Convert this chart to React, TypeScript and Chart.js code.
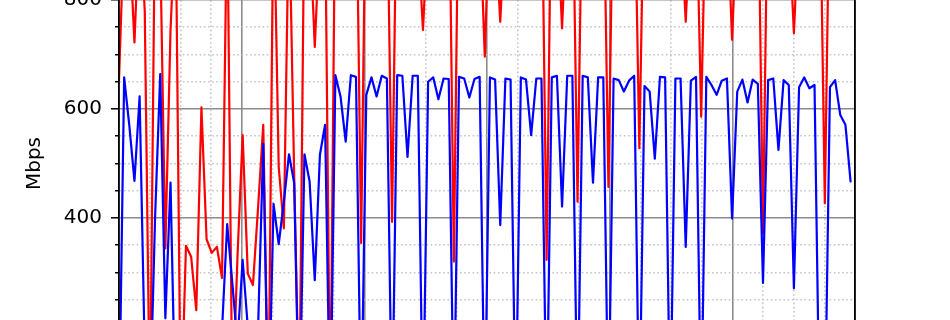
import React, { useEffect, useRef } from 'react';
import { Chart, registerables } from 'chart.js';

Chart.register(...registerables);

// ---- data ----
const SAMPLE_SECONDS = 0.42; // time between samples (s)

const BLUE_MBPS = [
  20, 658, 570, 468, 623, 150, 40, 400, 664, 216,
  465, 20, 120, 160, 90, 140, 180, 30, 150, 170,
  195, 389, 280, 170, 323, 200, 100, 200, 536, 15,
  426, 352, 430, 517, 464, 15, 517, 467, 286, 516,
  571, 10, 662, 623, 540, 662, 659, 10, 626, 658,
  623, 661, 656, 10, 662, 661, 512, 661, 661, 10,
  650, 658, 618, 656, 655, 10, 659, 656, 621, 655,
  659, 10, 658, 654, 387, 656, 654, 10, 658, 654,
  552, 656, 656, 10, 658, 661, 421, 661, 661, 10,
  661, 658, 465, 658, 658, 10, 656, 653, 632, 652,
  661, 10, 642, 632, 509, 659, 658, 10, 656, 656,
  347, 652, 659, 10, 659, 644, 626, 652, 656, 399,
  632, 654, 612, 654, 646, 281, 653, 656, 525, 653,
  644, 271, 640, 658, 638, 644, 10, 10, 640, 653,
  589, 571, 467,
];

const RED_MBPS = [
  653, 940, 920, 722, 960, 780, 30, 980, 900, 344,
  745, 960, 20, 349, 329, 231, 603, 361, 336, 347,
  290, 990, 60, 330, 552, 298, 277, 420, 571, 30,
  1010, 494, 381, 980, 480, 40, 1000, 940, 714, 930,
  980, 20, 1040, 1010, 1030, 1000, 1080, 354, 1100, 1050,
  1020, 1060, 1040, 393, 1090, 1030, 1050, 1010, 920, 745,
  940, 1030, 1060, 1020, 1090, 320, 1100, 1040, 1010, 1050,
  960, 696, 1000, 940, 760, 950, 1030, 1060, 1020, 1050,
  1010, 1040, 1080, 323, 1090, 960, 748, 980, 1060, 430,
  1080, 1020, 1050, 1010, 1060, 457, 1070, 1030, 1050, 1010,
  1060, 528, 1060, 1020, 1040, 1010, 1050, 1030, 1000, 950,
  760, 960, 1020, 586, 1040, 1010, 1050, 1020, 970, 727,
  960, 1030, 1050, 1010, 1070, 372, 1080, 1020, 1040, 980,
  940, 739, 950, 1030, 1050, 1020, 1060, 427, 1070, 1030,
  1010, 1050, 1020,
];

const Y_TITLE = 'Mbps';
const Y_TICK_LABELS = [400, 600, 800];
const Y_MAJOR_EVERY = 200;
const Y_MINOR_STEP = 50;
const X_MAJOR_STEP = 10;
const X_MINOR_STEP = 2.5;

// ---- layout / style ----
const Y_MIN = 0;
const Y_MAX = 1000;
const Y_TOP_VISIBLE = 800;
const PX_PER_UNIT = 109 / 200;
const PLOT_H = (Y_MAX - Y_MIN) * PX_PER_UNIT;
const PAD_TOP = 30;
const X_AXIS_H = 30;
const CANVAS_W = 950;
const CANVAS_H = Math.round(PAD_TOP + PLOT_H + X_AXIS_H);
const OFFSET_TOP = PAD_TOP + (Y_MAX - Y_TOP_VISIBLE) * PX_PER_UNIT;
const PLOT_LEFT = 119;
const PLOT_RIGHT = 855;
const X_MIN = 0;
const X_MAX = 60;

const MAJOR_GRID = '#8c8c8c';
const MINOR_GRID = '#c4c4c4';
const FONT = 'DejaVu Sans';

const toPoints = (vals: number[]) =>
  vals.map((v, i) => ({ x: +(i * SAMPLE_SECONDS).toFixed(3), y: v }));

export default function App() {
  const ref = useRef<HTMLCanvasElement>(null);

  useEffect(() => {
    const canvas = ref.current;
    if (!canvas) return;
    const isMajorY = (c: any) => !c.tick || c.tick.value % Y_MAJOR_EVERY === 0;
    const isMajorX = (c: any) => !c.tick || Math.abs(c.tick.value % X_MAJOR_STEP) < 1e-6;

    const chart = new Chart(canvas, {
      type: 'line',
      data: {
        datasets: [
          {
            label: 'blue',
            data: toPoints(BLUE_MBPS),
            borderColor: '#0000ff',
            borderWidth: 2.2,
            pointRadius: 0,
            tension: 0,
            fill: false,
            borderJoinStyle: 'round',
            borderCapStyle: 'round',
          },
          {
            label: 'red',
            data: toPoints(RED_MBPS),
            borderColor: '#ff0000',
            borderWidth: 2.2,
            pointRadius: 0,
            tension: 0,
            fill: false,
            borderJoinStyle: 'round',
            borderCapStyle: 'round',
          },
        ],
      },
      options: {
        animation: false,
        responsive: false,
        devicePixelRatio: 1,
        events: [],
        layout: { padding: { top: PAD_TOP, right: CANVAS_W - PLOT_RIGHT, bottom: 0, left: 0 } },
        plugins: { legend: { display: false }, tooltip: { enabled: false } },
        scales: {
          x: {
            type: 'linear',
            min: X_MIN,
            max: X_MAX,
            afterFit: (s: any) => { s.height = X_AXIS_H; },
            ticks: { display: false, stepSize: X_MINOR_STEP, autoSkip: false },
            grid: {
              drawTicks: false,
              color: (c: any) => (isMajorX(c) ? MAJOR_GRID : MINOR_GRID),
              lineWidth: 1.6,
            },
            border: {
              display: false,
              dash: (c: any) => (isMajorX(c) ? [] : [1.6, 2.6]),
            },
          },
          y: {
            type: 'linear',
            position: 'left',
            min: Y_MIN,
            max: Y_MAX,
            afterFit: (s: any) => { s.width = PLOT_LEFT; },
            ticks: {
              stepSize: Y_MINOR_STEP,
              autoSkip: false,
              padding: 9,
              color: '#000',
              font: { family: FONT, size: 20 },
              callback: (v: any) => (Y_TICK_LABELS.includes(Number(v)) ? String(v) : ''),
            },
            grid: {
              color: (c: any) => (isMajorY(c) ? MAJOR_GRID : MINOR_GRID),
              lineWidth: 1.6,
              tickColor: '#000',
              tickLength: 8,
              tickWidth: 1.5,
              tickBorderDash: (c: any) => (isMajorY(c) ? [] : [0, 4, 40]),
            },
            border: {
              display: true,
              color: '#000',
              width: 1.8,
              z: 1,
              dash: (c: any) => (c.tick ? (isMajorY(c) ? [] : [1.6, 2.6]) : []),
            },
            title: {
              display: true,
              text: Y_TITLE,
              color: '#000',
              font: { family: FONT, size: 20 },
              padding: { top: 23, bottom: 0 },
            },
          },
          y2: {
            type: 'linear',
            position: 'right',
            min: Y_MIN,
            max: Y_MAX,
            afterFit: (s: any) => { s.width = 0; },
            ticks: { display: false },
            grid: { display: false, drawTicks: false },
            border: { display: true, color: '#000', width: 1.8, z: 1 },
          },
        },
      },
    } as any);
    return () => chart.destroy();
  }, []);

  return (
    <div
      style={{
        position: 'fixed',
        left: 0,
        top: 0,
        width: CANVAS_W,
        height: 320,
        overflow: 'hidden',
        background: '#fff',
      }}
    >
      <div style={{ position: 'absolute', left: 0, top: -OFFSET_TOP, width: CANVAS_W, height: CANVAS_H }}>
        <canvas
          ref={ref}
          width={CANVAS_W}
          height={CANVAS_H}
          style={{ display: 'block', width: CANVAS_W, height: CANVAS_H }}
        />
      </div>
    </div>
  );
}
